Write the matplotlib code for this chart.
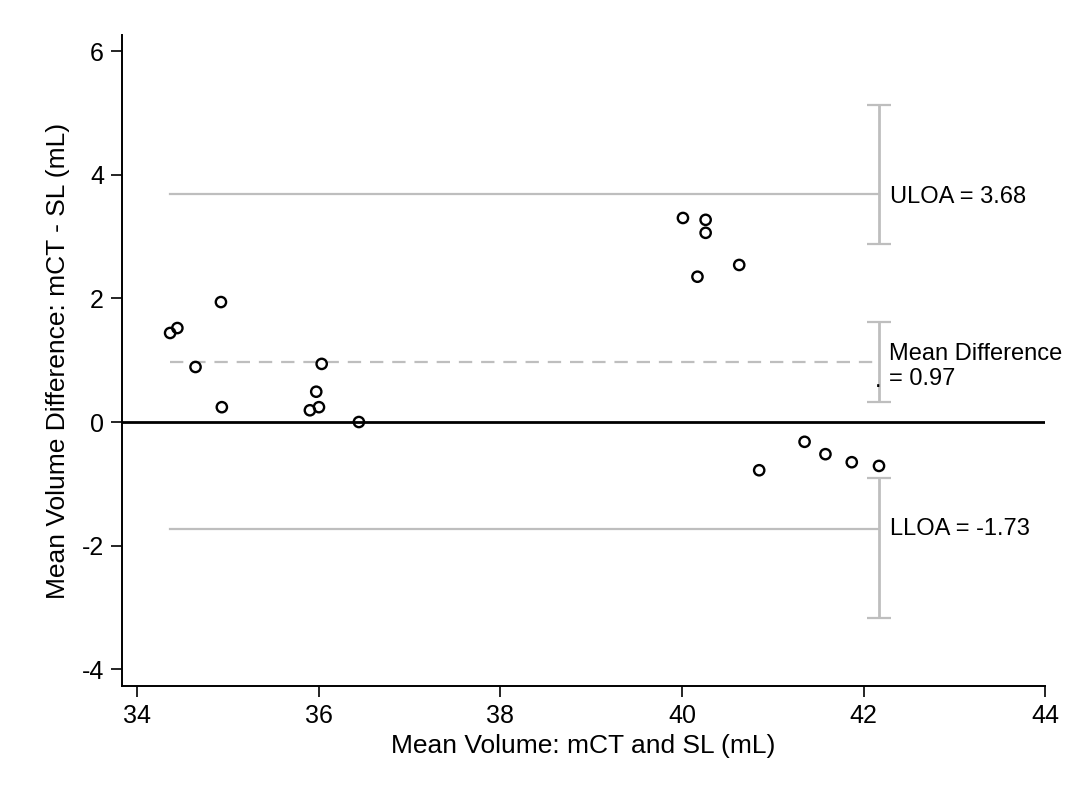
"""
Bland-Altman: volumen mCT vs SL
"""
import matplotlib.pyplot as plt
import numpy as np

plt.rcParams['font.family'] = ['Liberation Sans', 'DejaVu Sans']
plt.rcParams['axes.unicode_minus'] = False

# Datos
mean_vol = [34.36, 34.44, 34.64, 34.92, 34.93, 35.90, 36.00, 35.97, 36.03, 36.44,
            40.01, 40.26, 40.26, 40.17, 40.63, 40.85, 41.35, 41.58, 41.87, 42.17]
diff_vol = [1.44, 1.52, 0.89, 1.94, 0.24, 0.19, 0.24, 0.49, 0.94, 0.00,
            3.30, 3.27, 3.06, 2.35, 2.54, -0.78, -0.32, -0.52, -0.65, -0.71]

mean_diff = 0.97
uloa = 3.68
lloa = -1.73
# intervalos de confianza (barras)
uloa_ci = [2.88, 5.13]
mean_ci = [0.32, 1.62]
lloa_ci = [-3.17, -0.91]

xticks = [34, 36, 38, 40, 42, 44]
yticks = [-4, -2, 0, 2, 4, 6]

gray = '#bebebe'

fig = plt.figure(figsize=(10.73, 7.91), dpi=100)
ax = fig.add_axes([0.1137, 0.1327, 0.8603, 0.8231])

xmin, xmax = min(mean_vol), max(mean_vol)

ax.axhline(0, color='black', lw=2, zorder=1)
ax.plot([xmin, xmax], [uloa, uloa], color=gray, lw=1.6, zorder=1)
ax.plot([xmin, xmax], [lloa, lloa], color=gray, lw=1.6, zorder=1)
ax.plot([xmin, xmax], [mean_diff, mean_diff], color=gray, lw=1.6,
        dashes=(6, 4), zorder=1)

for lo, hi in [uloa_ci, mean_ci, lloa_ci]:
    mid = (lo + hi) / 2
    ax.errorbar([xmax], [mid], yerr=[[mid - lo], [hi - mid]], fmt='none',
                ecolor=gray, elinewidth=2, capsize=8.6, capthick=1.6, zorder=1)

ax.scatter(mean_vol, diff_vol, s=55, facecolors='none', edgecolors='black',
           linewidths=1.7, zorder=3)

fs = 17
ax.text(xmax + 0.12, uloa - 0.04, f'ULOA = {uloa:.2f}', fontsize=fs, va='center', ha='left')
ax.text(xmax + 0.12, lloa, f'LLOA = {lloa:.2f}', fontsize=fs, va='center', ha='left')
ax.text(xmax + 0.11, mean_diff - 0.07, 'Mean Difference\n= 0.97', fontsize=fs,
        va='center', ha='left', linespacing=1.15)
ax.text(xmax - 0.05, 0.66, '.', fontsize=fs, va='center', ha='left')

ax.set_xlim(33.83, 44.0)
ax.set_ylim(-4.27, 6.26)
ax.set_xticks(xticks)
ax.set_yticks(yticks)
ax.tick_params(direction='out', length=8, width=1.2, labelsize=18, pad=5)

ax.spines['top'].set_visible(False)
ax.spines['right'].set_visible(False)
ax.spines['left'].set_linewidth(1.4)
ax.spines['bottom'].set_linewidth(1.4)

ax.set_xlabel('Mean Volume: mCT and SL (mL)', fontsize=19, labelpad=4)
ax.set_ylabel('Mean Volume Difference: mCT - SL (mL)', fontsize=19, labelpad=8)

plt.savefig('out.png', dpi=100)
